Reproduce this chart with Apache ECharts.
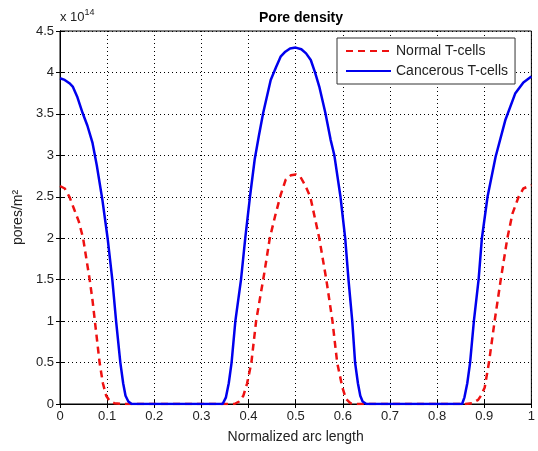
<!DOCTYPE html>
<html>
<head>
  <meta charset="utf-8">
  <title>Pore density</title>
  <script src="https://cdn.jsdelivr.net/npm/echarts@6/dist/echarts.min.js"></script>
  <style>
    html, body { margin: 0; padding: 0; background: #fff; }
    #main { width: 538px; height: 451px; }
  </style>
</head>
<body>
  <div id="main"></div>
  <script type="text/javascript">
    // values, y in units of 1e14 pores/m^2
    var yTicks = ['0', '0.5', '1', '1.5', '2', '2.5', '3', '3.5', '4', '4.5'];
    var xTicks = ['0', '0.1', '0.2', '0.3', '0.4', '0.5', '0.6', '0.7', '0.8', '0.9', '1'];

    var normalX = [0, 0.01, 0.02, 0.03, 0.04, 0.049, 0.056, 0.063, 0.069, 0.074, 0.084, 0.091, 0.098, 0.105, 0.115, 0.13,
      0.37, 0.38, 0.389, 0.397, 0.406, 0.416, 0.425, 0.434, 0.445, 0.456, 0.468, 0.479, 0.49, 0.5, 0.51, 0.52, 0.531,
      0.55, 0.565, 0.578, 0.588, 0.599, 0.607, 0.616, 0.63,
      0.86, 0.875, 0.887, 0.893, 0.901, 0.91, 0.922, 0.935, 0.949, 0.96, 0.973, 0.983, 1];
    var normalY = [2.63, 2.6, 2.5, 2.35, 2.2, 2.0, 1.75, 1.5, 1.25, 1.0, 0.5, 0.25, 0.1, 0.04, 0.01, 0,
      0, 0.03, 0.1, 0.25, 0.5, 1.0, 1.3, 1.6, 2.0, 2.26, 2.52, 2.71, 2.76, 2.77, 2.74, 2.64, 2.5,
      2.0, 1.5, 1.0, 0.5, 0.2, 0.06, 0.01, 0,
      0, 0.01, 0.05, 0.1, 0.2, 0.5, 1.0, 1.5, 2.0, 2.3, 2.5, 2.6, 2.64];

    var cancerX = [0, 0.01, 0.02, 0.027, 0.037, 0.048, 0.058, 0.069, 0.078, 0.09, 0.101, 0.111, 0.119, 0.128, 0.134,
      0.139, 0.145, 0.152,
      0.345, 0.352, 0.358, 0.364, 0.372, 0.384, 0.393, 0.403, 0.413, 0.422, 0.431, 0.447, 0.458, 0.468, 0.478, 0.488,
      0.5, 0.512, 0.522, 0.532, 0.541, 0.55, 0.563, 0.574, 0.582, 0.595, 0.605, 0.612, 0.62, 0.626, 0.632, 0.637,
      0.642, 0.65,
      0.853, 0.858, 0.864, 0.87, 0.878, 0.888, 0.895, 0.907, 0.924, 0.945, 0.966, 0.983, 1];
    var cancerY = [3.93, 3.91, 3.87, 3.83, 3.7, 3.51, 3.36, 3.15, 2.88, 2.46, 2.0, 1.5, 1.0, 0.5, 0.25,
      0.1, 0.03, 0,
      0, 0.08, 0.25, 0.5, 1.0, 1.5, 2.0, 2.5, 2.95, 3.24, 3.51, 3.91, 4.06, 4.19, 4.25, 4.29,
      4.3, 4.28, 4.23, 4.15, 4.0, 3.83, 3.51, 3.19, 3.0, 2.5, 2.0, 1.5, 1.0, 0.5, 0.25, 0.1,
      0.03, 0,
      0, 0.08, 0.25, 0.5, 1.0, 1.5, 2.0, 2.5, 2.98, 3.43, 3.75, 3.88, 3.95];

    function pairs(xs, ys) {
      return xs.map(function (x, i) { return [x, ys[i]]; });
    }

    var myChart = echarts.init(document.getElementById('main'));
    var font = 'Liberation Sans, Arial, sans-serif';
    var gridLine = { show: true, lineStyle: { color: '#000', type: [1, 3], width: 1 } };

    var option = {
      backgroundColor: '#fff',
      animation: false,
      textStyle: { fontFamily: font },
      title: {
        text: 'Pore density',
        left: 296, top: 6, textAlign: 'center',
        textStyle: { fontSize: 14, fontWeight: 'bold', color: '#000', fontFamily: font }
      },
      grid: { left: 60, right: 2, top: 31, bottom: 47, show: true, borderColor: '#000', borderWidth: 1 },
      legend: {
        orient: 'vertical',
        left: 337, top: 38,
        padding: [6, 7, 6, 8],
        itemWidth: 45, itemHeight: 14, itemGap: 6,
        backgroundColor: '#fff',
        borderColor: '#333', borderWidth: 1,
        itemStyle: { opacity: 0 },
        textStyle: { fontSize: 14, color: '#222', fontFamily: font },
        data: ['Normal T-cells', 'Cancerous T-cells']
      },
      graphic: [{
        type: 'text', left: 60, top: 8,
        style: {
          text: 'x 10{s|14}',
          rich: { s: { fontSize: 9, verticalAlign: 'top', padding: [0, 0, 9, 0] } },
          font: '13px ' + font, fill: '#222'
        }
      }],
      xAxis: [{
        type: 'value', min: 0, max: 1, interval: 0.1,
        name: 'Normalized arc length', nameLocation: 'middle', nameGap: 26,
        nameTextStyle: { fontSize: 14, color: '#222' },
        axisLine: { show: true, lineStyle: { color: '#000' } },
        axisTick: { inside: true, length: 4, lineStyle: { color: '#000' } },
        axisLabel: { color: '#222', fontSize: 13, margin: 6,
          formatter: function (v) { return xTicks[Math.round(v * 10)]; } },
        splitLine: gridLine
      }, {
        type: 'value', position: 'top', min: 0, max: 1, interval: 0.1,
        axisLine: { show: true, lineStyle: { color: '#000' } },
        axisTick: { inside: true, length: 4, lineStyle: { color: '#000' } },
        axisLabel: { show: false }, splitLine: { show: false }
      }],
      yAxis: [{
        type: 'value', min: 0, max: 4.5, interval: 0.5,
        name: 'pores/m²', nameLocation: 'middle', nameGap: 32,
        nameTextStyle: { fontSize: 14, color: '#222' },
        axisLine: { show: true, lineStyle: { color: '#000' } },
        axisTick: { inside: true, length: 4, lineStyle: { color: '#000' } },
        axisLabel: { color: '#222', fontSize: 13, margin: 6,
          formatter: function (v) { return yTicks[Math.round(v * 2)]; } },
        splitLine: gridLine
      }, {
        type: 'value', position: 'right', min: 0, max: 4.5, interval: 0.5,
        axisLine: { show: true, lineStyle: { color: '#000' } },
        axisTick: { inside: true, length: 4, lineStyle: { color: '#000' } },
        axisLabel: { show: false }, splitLine: { show: false }
      }],
      series: [{
        name: 'Normal T-cells',
        type: 'line', showSymbol: false, symbol: 'none',
        color: '#ee1111',
        lineStyle: { color: '#ee1111', width: 2.5, type: [7, 5] },
        data: pairs(normalX, normalY)
      }, {
        name: 'Cancerous T-cells',
        type: 'line', showSymbol: false, symbol: 'none',
        color: '#0000ee',
        lineStyle: { color: '#0000ee', width: 2.5 },
        data: pairs(cancerX, cancerY)
      }]
    };
    myChart.setOption(option);
  </script>
</body>
</html>
